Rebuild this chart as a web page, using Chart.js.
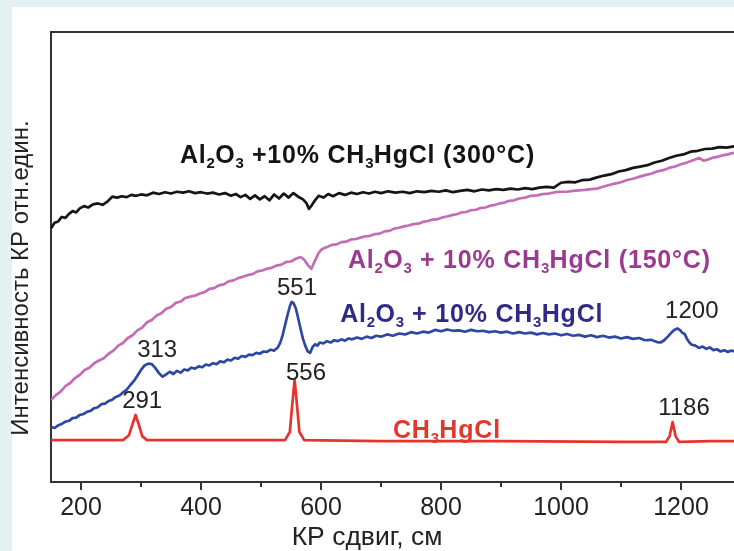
<!DOCTYPE html>
<html>
<head>
<meta charset="utf-8">
<script src="https://cdn.jsdelivr.net/npm/chart.js@4.4.1/dist/chart.umd.min.js"></script>
<style>
html, body { margin: 0; padding: 0; overflow: hidden; background: #e4f1f3; width: 734px; height: 551px; }
#card { position: absolute; left: 12px; top: 7px; width: 760px; height: 560px; background: #fff; }
#myChart { position: absolute; left: 0; top: 0; }
</style>
</head>
<body>
<div id="card"></div>
<canvas id="myChart" width="760" height="551"></canvas>
<script>
// Raman spectra, x = shift (cm-1), y = intensity (arb. units 0..100)

const blackX = [150,156,162,168,174,180,186,192,198,205,212,220,228,236,244,252,260,268,276,284,292,300,310,320,330,340,350,360,370,380,390,400,410,420,430,440,450,458,466,474,482,490,498,506,514,522,530,538,546,554,562,570,576,580,584,590,596,604,612,620,630,640,650,660,670,680,690,700,712,724,736,748,760,772,784,796,808,820,832,844,856,868,880,892,904,916,928,940,952,964,976,988,1000,1012,1024,1036,1048,1060,1072,1084,1096,1108,1120,1132,1144,1156,1168,1180,1192,1204,1216,1228,1240,1252,1264,1276,1288,1300]
const blackY = [56.4,57.6,57.9,58.9,58.7,59.6,60.2,59.9,60.8,61.3,61.0,61.7,61.9,61.6,62.3,63.4,63.2,63.5,63.3,63.8,63.6,63.9,63.7,64.3,64.0,64.4,64.1,64.5,64.3,64.6,64.2,64.4,64.1,64.3,63.9,64.2,63.6,64.0,63.3,63.8,62.9,63.7,62.8,63.5,62.6,63.9,63.0,64.1,63.2,64.2,63.4,62.8,61.9,60.7,61.4,62.6,63.6,63.2,64.0,63.5,64.2,63.8,64.3,64.0,64.4,64.1,64.5,64.2,64.6,64.3,64.5,64.2,64.6,64.4,64.7,64.5,64.8,64.4,64.7,64.9,64.6,65.0,64.8,65.1,64.9,65.2,65.0,65.3,65.1,65.4,65.6,65.4,66.5,66.7,66.6,67.1,67.2,67.7,68.1,68.4,69.0,69.3,69.8,70.1,70.4,71.0,71.4,72.0,72.5,72.8,73.4,73.6,74.0,74.1,74.4,74.3,74.6,74.7]

const pinkX = [150,158,166,174,182,190,198,206,214,222,230,238,246,254,262,270,278,286,294,302,310,318,326,334,342,350,358,366,374,382,390,398,406,414,422,430,438,446,454,462,470,478,486,494,502,510,518,526,534,542,550,558,566,572,578,584,590,596,602,610,618,626,634,642,650,658,666,674,682,690,698,706,714,722,730,738,746,754,762,770,778,786,794,802,810,818,826,834,842,850,858,866,874,882,890,898,906,914,922,930,940,950,960,970,980,990,1000,1010,1020,1030,1040,1050,1060,1070,1080,1090,1100,1110,1120,1130,1140,1150,1160,1170,1180,1190,1200,1210,1220,1230,1238,1246,1254,1262,1270,1278,1286,1300]
const pinkY = [18.2,19.3,20.1,21.3,22.0,23.1,23.8,24.9,25.4,26.4,27.0,27.5,28.5,29.2,30.3,30.9,32.0,32.6,33.7,34.3,35.5,36.0,37.0,37.5,38.5,38.9,39.8,40.1,40.9,41.2,41.4,41.9,42.2,42.9,43.1,43.7,43.9,44.6,44.8,45.3,45.6,46.0,46.2,46.8,47.0,47.4,47.6,48.1,48.3,48.9,49.0,49.6,50.0,49.4,48.2,47.4,49.2,50.9,51.8,52.2,52.7,52.8,53.3,53.4,53.9,54.0,54.3,54.6,54.7,55.1,55.2,55.7,55.8,56.3,56.5,56.8,57.0,57.3,57.4,57.8,58.0,58.3,58.4,58.8,59.0,59.3,59.5,59.9,60.0,60.4,60.5,60.9,61.0,61.4,61.6,61.9,62.1,62.5,62.6,63.0,63.2,63.6,63.7,64.0,64.1,64.4,64.5,64.5,64.7,64.8,64.9,65.1,65.2,65.6,66.0,66.3,66.6,67.1,67.4,67.8,68.2,68.5,69.0,69.3,69.8,70.1,70.6,71.0,71.5,72.0,71.4,71.7,72.1,72.3,72.6,72.8,73.1,73.4]

const blueX = [150,156,162,168,174,180,186,192,198,204,210,216,222,228,234,240,246,252,258,264,270,276,282,288,294,300,306,312,318,324,330,336,342,348,354,360,366,372,378,384,390,396,402,408,414,420,426,432,438,444,450,456,462,468,474,480,486,492,498,504,510,516,522,528,532,536,540,544,548,551,554,558,562,566,570,574,578,582,586,590,594,598,604,610,616,622,628,634,640,646,652,660,668,676,684,692,700,710,720,730,740,750,760,770,780,790,800,810,820,830,840,850,860,870,880,890,900,910,920,930,940,950,960,970,980,990,1000,1010,1020,1030,1040,1050,1060,1070,1080,1090,1100,1110,1120,1130,1140,1150,1160,1166,1172,1178,1184,1190,1194,1198,1202,1206,1210,1214,1218,1224,1230,1236,1242,1248,1254,1260,1266,1272,1278,1284,1290,1300]
const blueY = [12.2,12.0,12.6,12.9,13.4,13.6,14.2,14.3,14.9,15.1,15.6,15.8,16.4,16.6,17.3,17.4,18.0,18.3,18.9,19.2,19.9,20.5,21.5,22.4,23.6,24.9,25.9,26.3,26.2,25.3,24.2,23.4,23.9,24.5,24.0,24.7,24.3,25.0,24.8,25.4,25.2,25.7,25.5,26.1,25.9,26.4,26.2,26.8,26.6,27.2,27.0,27.6,27.4,28.0,27.8,28.3,28.2,28.7,28.5,29.0,28.9,29.4,29.2,29.9,30.9,32.6,34.8,37.0,39.0,40.0,39.8,38.6,36.4,34.0,31.8,30.2,29.0,28.7,30.0,30.6,30.3,31.0,30.8,31.3,31.0,31.5,31.3,31.7,31.4,31.9,31.7,32.1,31.8,32.3,32.0,32.5,32.3,32.8,32.5,33.0,32.8,33.3,33.0,33.4,33.2,33.8,33.5,33.9,33.6,33.7,33.4,33.8,33.5,33.6,33.3,33.5,33.2,33.4,33.0,33.3,33.0,33.2,32.8,33.1,32.8,33.0,32.6,32.9,32.5,32.7,32.3,32.6,32.2,32.5,32.1,32.3,31.9,32.2,31.8,32.0,31.5,31.6,31.1,31.0,31.5,32.3,33.2,33.9,34.1,33.8,33.2,32.9,31.8,31.0,30.5,30.3,29.8,30.1,29.6,29.9,29.3,29.5,29.0,29.3,28.9,29.2,29.0,29.3]

const redX = [150,200,240,270,280,286,291,296,302,310,400,500,540,548,552,556,560,564,572,700,900,1100,1175,1181,1186,1191,1197,1250,1300]
const redY = [9.3,9.3,9.3,9.3,10.4,12.9,14.9,12.9,10.2,9.3,9.3,9.3,9.3,11.1,17.1,22.7,17.1,11.1,9.3,9.1,9.1,8.9,8.9,10.2,13.3,10.2,8.9,9.1,9.1]

const xTicksMinor = [300, 500, 700, 900, 1100]

const seriesNames = ['Al2O3 +10% CH3HgCl (300°C)', 'Al2O3 + 10% CH3HgCl (150°C)', 'Al2O3 + 10% CH3HgCl', 'CH3HgCl']
const peakNames = ['291', '313', '551', '556', '1186', '1200']

function pts(xs, ys) {
   return xs.map((x, i) => ({ x: x, y: ys[i] }))
}

const FONT = '"Liberation Sans", Arial, Helvetica, sans-serif'

// label placement in data units
const seriesLabels = [
   { text: 'Al_2O_3 +10% CH_3HgCl (300°C)', x: 365, y: 70.9, color: '#141414' },
   { text: 'Al_2O_3 + 10% CH_3HgCl (150°C)', x: 645, y: 47.6, color: '#9c3a90' },
   { text: 'Al_2O_3 + 10% CH_3HgCl', x: 632, y: 35.6, color: '#2f2a86' },
   { text: 'CH_3HgCl', x: 720, y: 9.8, color: '#e2372f' }
]
const peakPos = [
   { x: 302, y: 16.4 }, { x: 327, y: 27.8 }, { x: 560, y: 41.6 },
   { x: 575, y: 22.7 }, { x: 1205, y: 14.9 }, { x: 1218, y: 36.4 }
]

function drawRich(ctx, str, x, y, size, color) {
   // "_" marks the next char as subscript
   const parts = []
   for (let i = 0; i < str.length; i++) {
      if (str[i] === '_') { parts.push({ t: str[i + 1], sub: true }); i++ }
      else parts.push({ t: str[i], sub: false })
   }
   ctx.fillStyle = color
   ctx.textAlign = 'left'
   ctx.textBaseline = 'alphabetic'
   let cx = x
   parts.forEach(p => {
      const s = p.sub ? size * 0.6 : size
      ctx.font = 'bold ' + s + 'px ' + FONT
      ctx.fillText(p.t, cx, y + (p.sub ? size * 0.2 : 0))
      cx += ctx.measureText(p.t).width + (p.sub ? 0.3 : 0.8)
   })
}

const decor = {
   id: 'decor',
   afterDraw(chart) {
      const ctx = chart.ctx
      const a = chart.chartArea
      const xs = chart.scales.x
      const ys = chart.scales.y
      ctx.save()
      // top frame
      ctx.strokeStyle = '#333'
      ctx.lineWidth = 2
      ctx.beginPath()
      ctx.moveTo(a.left - 1, a.top)
      ctx.lineTo(a.right, a.top)
      ctx.stroke()
      // minor ticks
      xTicksMinor.forEach(v => {
         const px = Math.round(xs.getPixelForValue(v))
         ctx.beginPath()
         ctx.moveTo(px, a.bottom)
         ctx.lineTo(px, a.bottom + 5)
         ctx.stroke()
      })
      // series labels
      seriesLabels.forEach(l => {
         drawRich(ctx, l.text, xs.getPixelForValue(l.x), ys.getPixelForValue(l.y), 25, l.color)
      })
      // peak numbers
      ctx.font = '24px ' + FONT
      ctx.fillStyle = '#222'
      ctx.textAlign = 'center'
      ctx.textBaseline = 'alphabetic'
      peakNames.forEach((n, i) => {
         ctx.fillText(n, xs.getPixelForValue(peakPos[i].x), ys.getPixelForValue(peakPos[i].y))
      })
      // axis titles
      ctx.font = '26.5px ' + FONT
      ctx.fillText('КР сдвиг, см', 367, 545)
      ctx.translate(28, 278)
      ctx.rotate(-Math.PI / 2)
      ctx.font = '24px ' + FONT
      ctx.fillText('Интенсивность КР отн.един.', 0, 0)
      ctx.restore()
   }
}

const ctx = document.getElementById('myChart')

const myChart = new Chart(ctx, {
   type: 'line',
   data: {
      datasets: [
         { label: seriesNames[0], data: pts(blackX, blackY), borderColor: '#151515' },
         { label: seriesNames[1], data: pts(pinkX, pinkY), borderColor: '#c46db6' },
         { label: seriesNames[2], data: pts(blueX, blueY), borderColor: '#2d48a3' },
         { label: seriesNames[3], data: pts(redX, redY), borderColor: '#e8332c' }
      ]
   },
   options: {
      responsive: false,
      animation: false,
      layout: { padding: { top: 32, right: 19, left: 0, bottom: 0 } },
      elements: {
         point: { radius: 0 },
         line: { borderWidth: 2.7, tension: 0, borderJoinStyle: 'round' }
      },
      plugins: { legend: { display: false }, tooltip: { enabled: false } },
      scales: {
         x: {
            type: 'linear',
            min: 150,
            max: 1300,
            border: { color: '#333', width: 2 },
            grid: { drawOnChartArea: false, tickLength: 8, color: '#333', lineWidth: 2 },
            ticks: {
               stepSize: 200, includeBounds: false, color: '#222', padding: 3,
               font: { family: FONT, size: 25 },
               callback: v => String(v)
            },
            afterFit(s) { s.height = 551 - 482 }
         },
         y: {
            min: 0,
            max: 100,
            ticks: { display: false },
            grid: { display: false },
            border: { color: '#333', width: 2 },
            afterFit(s) { s.width = 51 }
         }
      }
   },
   plugins: [decor]
})
</script>
</body>
</html>
